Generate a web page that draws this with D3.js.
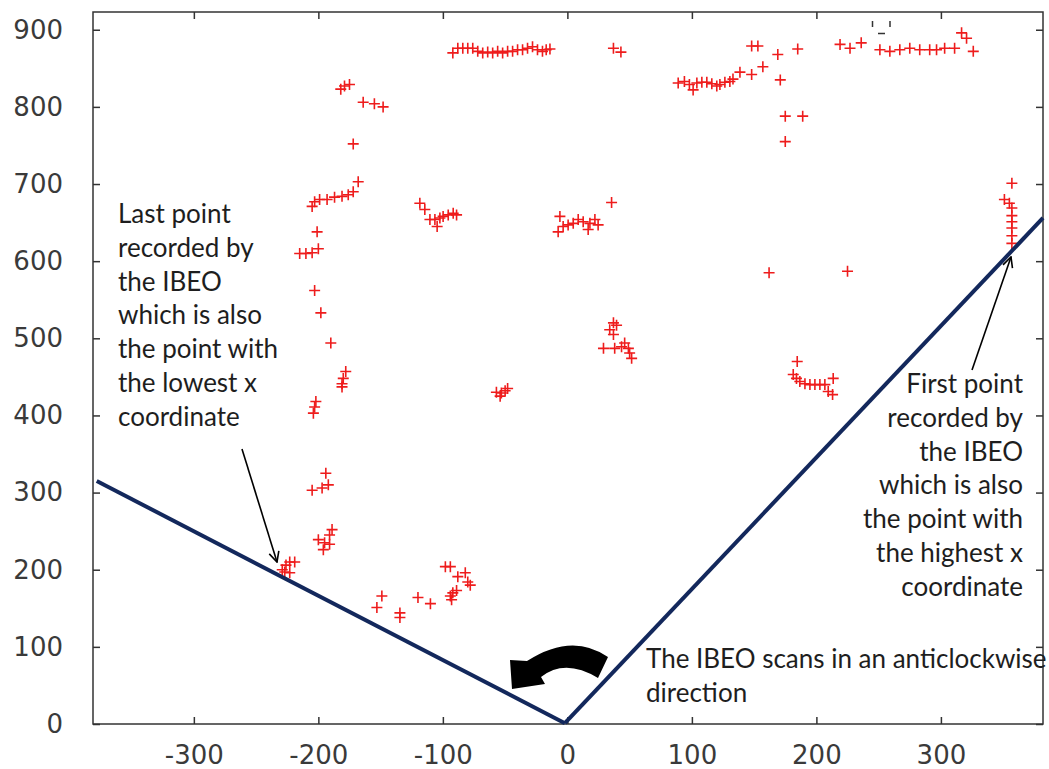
<!DOCTYPE html>
<html>
<head>
<meta charset="utf-8">
<script src="https://cdn.jsdelivr.net/npm/d3@7"></script>
<style>
  body { margin: 0; background: #fff; }
  svg { display: block; }
</style>
</head>
<body>
<div id="chart"></div>
<script>
// scan returns, grouped by the object they hit: [x, y]
var wallLeftUpper = [
  [-182,823],[-179,827],[-175,829],[-164,806],[-155,804],[-148,800],[-172,752],
  [-168,703],[-172,690],[-176,686],[-181,684],[-187,683],[-193,680],[-199,680],
  [-203,677],[-205,671],[-201,638],[-200,616],[-205,611],[-210,610],[-215,610],
  [-203,562],[-198,533]
];
var wallLeftLower = [
  [-190,494],[-178,457],[-180,448],[-181,441],[-181,437],[-202,418],[-203,411],
  [-204,403],[-194,325],[-192,310],[-197,306],[-205,303],[-189,252],[-191,245],
  [-200,239],[-195,235],[-191,233],[-196,226]
];
var lastPoints = [[-229,200],[-226,206],[-223,210],[-219,210],[-227,197],[-223,196]];
var bottomLeft = [
  [-149,166],[-153,151],[-134.5,144],[-134.5,138],[-120,164],[-110,156],[-98,204],
  [-94,204],[-88,191],[-82,196],[-80,184],[-78,180],[-94,166],[-92,170],[-89,173],[-93,161]
];
var midLeft = [
  [-118.5,675],[-114.5,667],[-110.4,654],[-106.4,654],[-104.6,645],[-102.4,656],
  [-99.8,658],[-95.7,660],[-91.7,662],[-89,660]
];
var topMid = [
  [-92,870],[-88,876],[-84,876],[-80,876],[-76,876],[-72,872],[-68,870],[-64,871],
  [-60,870],[-56,872],[-52,870],[-48,872],[-44,872],[-40,874],[-36,874],[-32,876],
  [-28,878],[-24,874],[-20,872],[-17,874],[-14,875],[37,876],[43,871]
];
var post = [[-57,430],[-53,429],[-50,432],[-48,435],[-54,425]];
var centre = [
  [-6,658],[-7.4,638],[-3.4,645],[0.6,647],[4.7,649],[8.7,654],[12.7,651],[16.7,641],
  [18.1,649],[22.1,654],[24.7,647],[35.5,676]
];
var centreLow = [
  [37,520],[39.5,517],[34,511],[37,505],[29,487],[38,487],[43.5,489],[46,494],
  [49,487],[50,481],[51.6,474]
];
var wallRight = [
  [89,831],[94,833],[98,829],[101,822],[104,831],[108,832],[112,832],[116,830],
  [120,827],[122.5,829],[126.5,832],[130.5,833],[133,836],[138.6,845],[148,842],
  [157,852],[169,868],[171,835],[148,879],[153,879],[185,875],[175,788],[189,788],[175,755]
];
var topRight = [
  [219,881],[227,876],[236,883],[251,874],[259,872],[267,874],[275,876],[283,874],
  [291,874],[296.5,874],[303,876],[311,876],[316.6,896],[320.6,889],[326,872]
];
var rightMid = [
  [162,585],[225,587],[184.6,470],[181.4,453],[184,448],[186.7,444],[190.8,441],
  [194.8,440],[198.8,440],[202.8,440],[206.8,440],[213.5,448],[209.5,431],[213,427]
];
var firstPoints = [
  [357,701],[351,680],[355,675],[357,669],[357,659],[357,651],[357,643],[357,633],[357,623]
];

var xTicks = [-300, -200, -100, 0, 100, 200, 300];
var yTicks = [0, 100, 200, 300, 400, 500, 600, 700, 800, 900];

// edges of the scanned sector, in data units
var scanEdgeLeft = [[-378, 315], [-2, 1]];
var scanEdgeRight = [[-2, 1], [382, 656]];

var leftNote = ["Last point", "recorded by", "the IBEO", "which is also",
                "the point with", "the lowest x", "coordinate"];
var rightNote = ["First point", "recorded by", "the IBEO", "which is also",
                 "the point with", "the highest x", "coordinate"];
var bottomNote = ["The IBEO scans in an anticlockwise", "direction"];

var width = 1049, height = 769;
var plotLeft = 93, plotRight = 1043, plotTop = 12, plotBottom = 724;

var svg = d3.select("#chart").append("svg")
  .attr("width", width)
  .attr("height", height);

var x = d3.scaleLinear().domain([-381, 382]).range([plotLeft, plotRight]);
var y = d3.scaleLinear().domain([0, 923]).range([plotBottom, plotTop]);

var frameColor = "#333";
var tickFont = "'DejaVu Sans', sans-serif";
var plainNum = function(d) { return String(d); };   // keep the ascii hyphen

function styleAxis(g) {
  g.select(".domain").remove();
  g.selectAll(".tick line").attr("stroke", frameColor).attr("stroke-width", 1.5);
  g.selectAll(".tick text")
    .attr("fill", "#3a3a3a")
    .attr("font-size", 26)
    .attr("font-family", tickFont);
}

svg.append("g")
  .attr("transform", "translate(0," + plotBottom + ")")
  .call(d3.axisBottom(x).tickValues(xTicks).tickFormat(plainNum)
    .tickSizeInner(-7).tickSizeOuter(0).tickPadding(22))
  .call(styleAxis);
svg.append("g")
  .attr("transform", "translate(0," + plotTop + ")")
  .call(d3.axisTop(x).tickValues(xTicks).tickFormat("")
    .tickSizeInner(-7).tickSizeOuter(0))
  .call(styleAxis);
svg.append("g")
  .attr("transform", "translate(" + plotLeft + ",0)")
  .call(d3.axisLeft(y).tickValues(yTicks).tickFormat(plainNum)
    .tickSizeInner(-7).tickSizeOuter(0).tickPadding(30))
  .call(styleAxis);
svg.append("g")
  .attr("transform", "translate(" + plotRight + ",0)")
  .call(d3.axisRight(y).tickValues(yTicks).tickFormat("")
    .tickSizeInner(-7).tickSizeOuter(0))
  .call(styleAxis);

svg.append("rect")
  .attr("x", plotLeft).attr("y", plotTop)
  .attr("width", plotRight - plotLeft).attr("height", plotBottom - plotTop)
  .attr("fill", "none")
  .attr("stroke", frameColor)
  .attr("stroke-width", 1.5);

// small leftover mark near the top edge
svg.append("path")
  .attr("d", "M872.5,21V27M890,21V27M878,33.5H885")
  .attr("stroke", "#333").attr("stroke-width", 1.5).attr("fill", "none");

// red "+" markers
var allPoints = [].concat(wallLeftUpper, wallLeftLower, lastPoints, bottomLeft, midLeft,
  topMid, post, centre, centreLow, wallRight, topRight, rightMid, firstPoints);

svg.append("g").selectAll(".pt")
  .data(allPoints)
 .enter().append("path")
  .attr("class", "pt")
  .attr("transform", function(d) { return "translate(" + x(d[0]) + "," + y(d[1]) + ")"; })
  .attr("d", "M-5.5,0H5.5M0,-5.5V5.5")
  .attr("stroke", "#ee1c1c")
  .attr("stroke-width", 1.6)
  .attr("fill", "none");

// scan sector edges
var line = d3.line().x(function(d) { return x(d[0]); }).y(function(d) { return y(d[1]); });
[scanEdgeLeft, scanEdgeRight].forEach(function(edge) {
  svg.append("path")
    .attr("d", line(edge))
    .attr("stroke", "#13285c")
    .attr("stroke-width", 4)
    .attr("fill", "none");
});

// annotation arrows
var defs = svg.append("defs");
defs.append("marker")
  .attr("id", "head")
  .attr("viewBox", "0 0 12 12")
  .attr("refX", 11).attr("refY", 6)
  .attr("markerWidth", 12).attr("markerHeight", 12)
  .attr("markerUnits", "userSpaceOnUse")
  .attr("orient", "auto")
 .append("path")
  .attr("d", "M1,1L11,6L1,11")
  .attr("fill", "none")
  .attr("stroke", "#000")
  .attr("stroke-width", 1.6);

svg.append("line")
  .attr("x1", 242).attr("y1", 449).attr("x2", 277).attr("y2", 562)
  .attr("stroke", "#000").attr("stroke-width", 1.6)
  .attr("marker-end", "url(#head)");
svg.append("line")
  .attr("x1", 972).attr("y1", 370).attr("x2", 1011).attr("y2", 257)
  .attr("stroke", "#000").attr("stroke-width", 1.6)
  .attr("marker-end", "url(#head)");

// thick curved arrow showing the scan direction
svg.append("path")
  .attr("d", "M608,657Q572,632 527,661L510,660L512,689L545,684L541,677Q565,658 598,678Z")
  .attr("fill", "#000");

// annotation texts
var noteFont = "Lato, 'Open Sans', sans-serif";
function note(lines, x0, y0, anchor) {
  var t = svg.append("text")
    .attr("font-family", noteFont)
    .attr("font-size", 26)
    .attr("fill", "#1e1e1e")
    .attr("text-anchor", anchor);
  lines.forEach(function(s, i) {
    t.append("tspan").attr("x", x0).attr("y", y0 + i * 33.8).text(s);
  });
}
note(leftNote, 118, 223, "start");
note(rightNote, 1023, 393, "end");
note(bottomNote, 646, 668, "start");
</script>
</body>
</html>
